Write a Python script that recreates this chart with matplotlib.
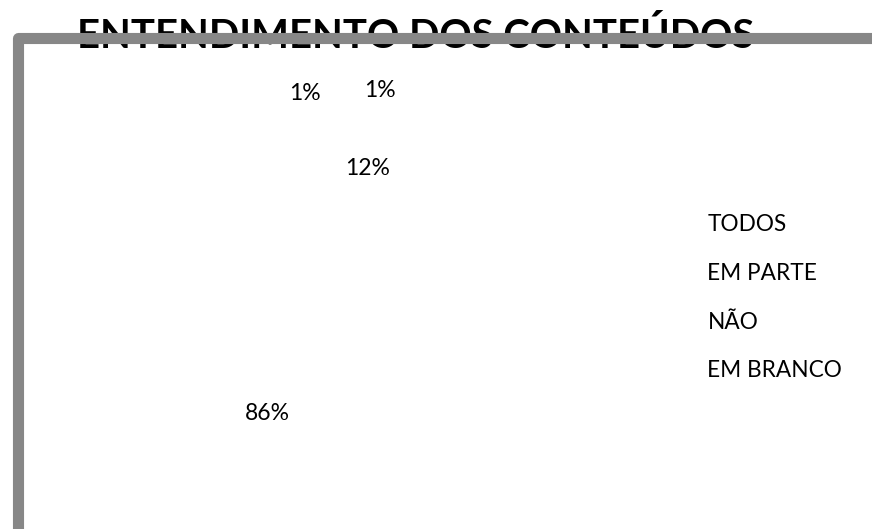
import matplotlib
matplotlib.use("Agg")
import matplotlib.pyplot as plt
from matplotlib.lines import Line2D

categories = ["TODOS", "EM PARTE", "NÃO", "EM BRANCO"]
values = [86, 12, 1, 1]
# label centres (in pie-radius units) as placed in the original chart
label_xy = [(-0.35, -0.82), (0.32, 0.81), (0.40, 1.33), (-0.10, 1.31)]
title = "ENTENDIMENTO DOS CONTEÚDOS"

W, H = 872, 529
fig = plt.figure(figsize=(W / 100, H / 100), dpi=100)
plt.rcParams['font.family'] = ['Lato', 'DejaVu Sans']

cx, cy, R = 320, 290, 150
ax = fig.add_axes([(cx - R) / W, (H - cy - R) / H, 2 * R / W, 2 * R / H])
wedges, texts, autotexts = ax.pie(values, colors=["white"] * 4, startangle=90,
                                  counterclock=True, autopct='%1.0f%%',
                                  textprops=dict(fontsize=16.5, color='black'))
for t, xy in zip(autotexts, label_xy):
    t.set_position(xy)
ax.set_xlim(-1, 1)
ax.set_ylim(-1, 1)
ax.set_aspect('equal')
ax.axis('off')

leg = fig.legend(wedges, categories, loc='upper left',
                 bbox_to_anchor=(687 / W, 1 - 194 / H), frameon=False,
                 handlelength=0, handletextpad=0, labelspacing=1.22,
                 prop=dict(size=16.3))
for h in leg.legend_handles:
    h.set_visible(False)

fig.text(416 / W, 1 - 48 / H, title, ha='center', va='baseline',
         fontsize=28.8, fontweight='bold', zorder=1)

frame = Line2D([17.5 / W, 17.5 / W, 1.0], [0.0, 1 - 37.5 / H, 1 - 37.5 / H],
               transform=fig.transFigure, color='#878787', linewidth=8,
               solid_joinstyle='round', solid_capstyle='butt', zorder=5)
fig.add_artist(frame)

fig.savefig("out.png", dpi=100)
